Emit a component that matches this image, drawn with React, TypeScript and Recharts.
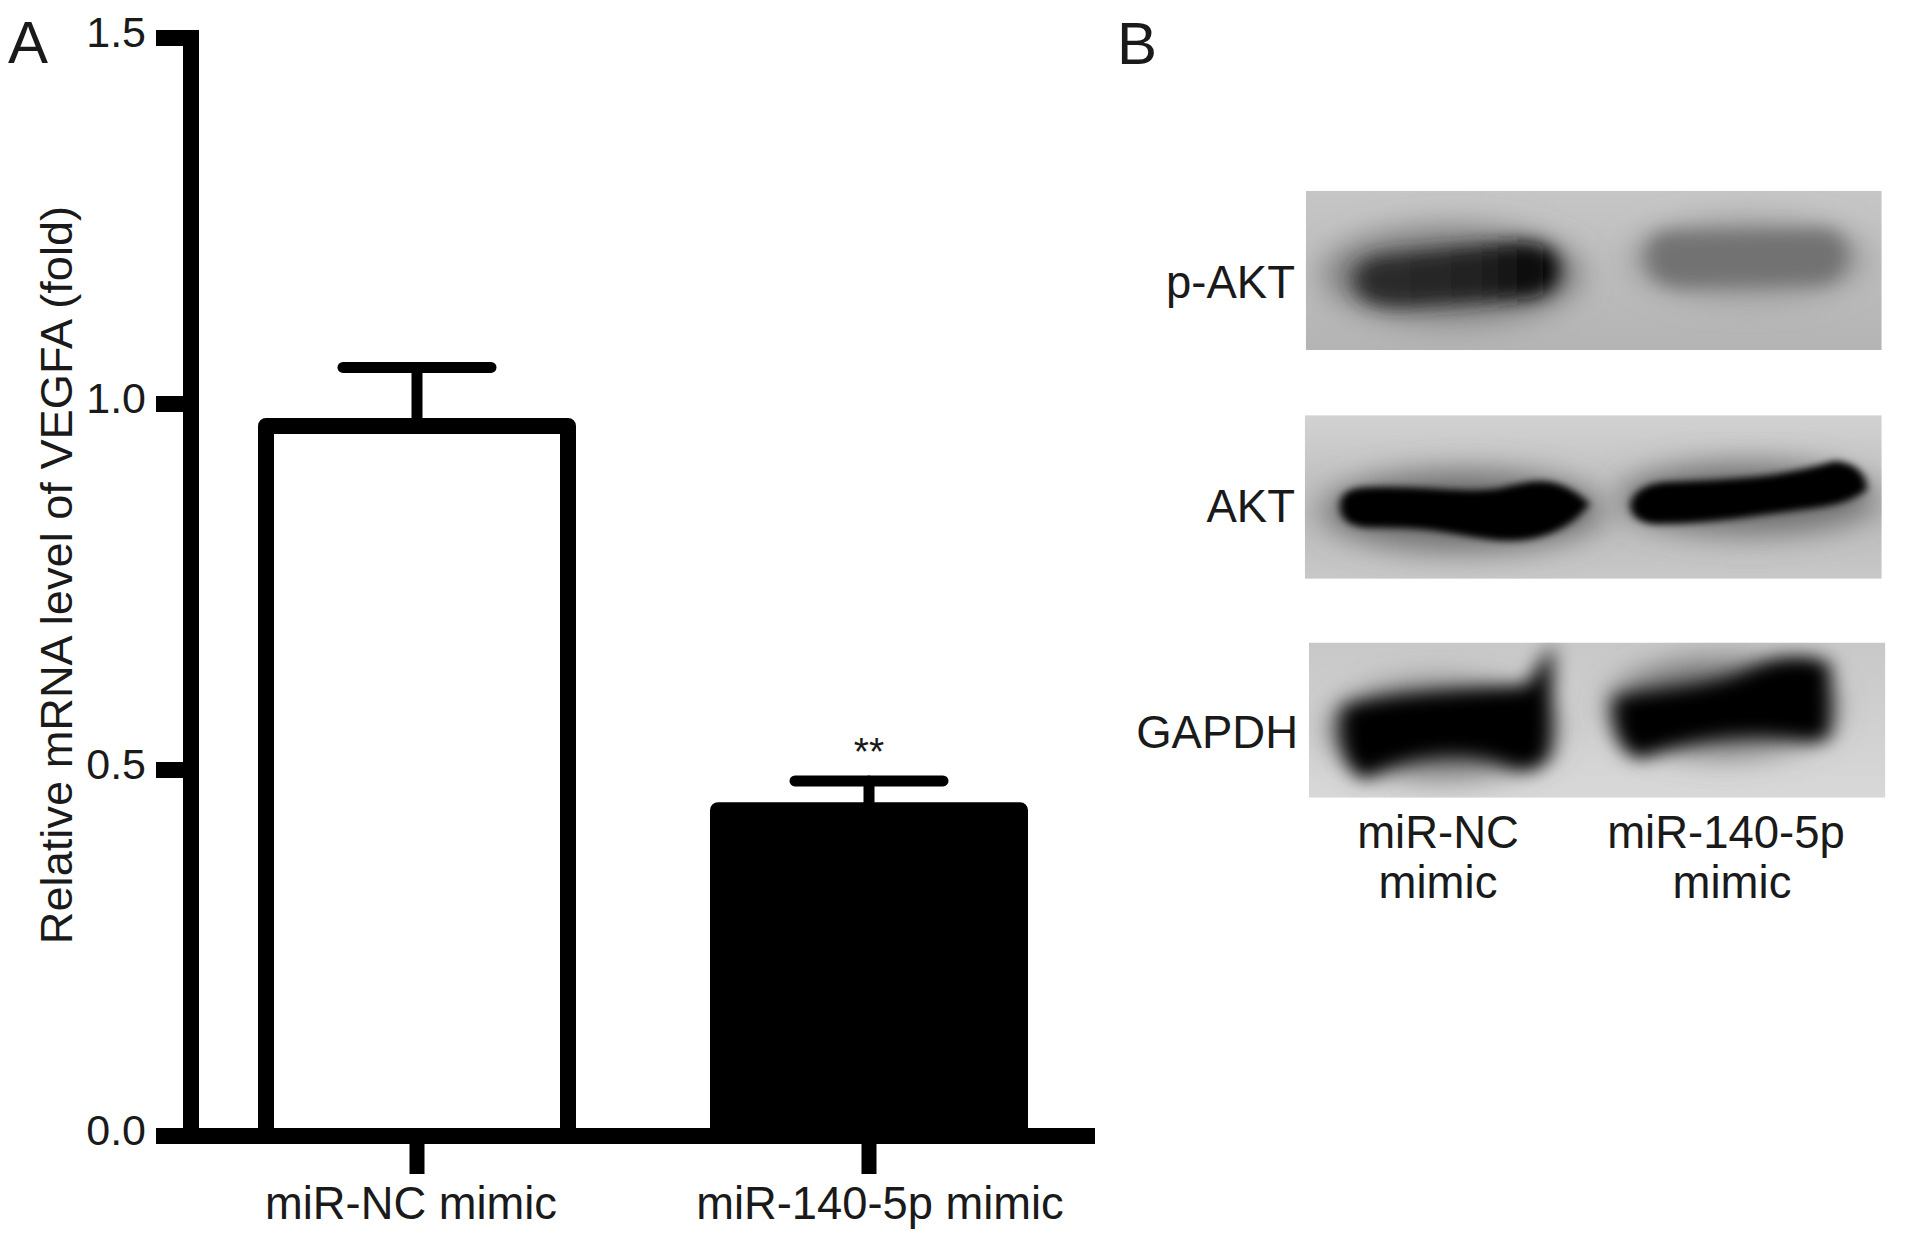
import { BarChart, Bar, Cell, XAxis, YAxis, ErrorBar, LabelList } from "recharts";

const categories = ["miR-NC mimic", "miR-140-5p mimic"];
const meanValues = [0.97, 0.445];
const semValues = [0.08, 0.04];
const significance = ["", "**"];
const barFills = ["#ffffff", "#000000"];
const yTicks = [0, 0.5, 1, 1.5];
const yTitle = "Relative mRNA level of VEGFA (fold)";

const chartData = categories.map((name, i) => ({
  name,
  mean: meanValues[i],
  errorRange: [0, semValues[i]],
  mark: significance[i],
}));

const FONT = "'Liberation Sans', Arial, sans-serif";
const TEXT = "#1a1a1a";

const XTick = ({ x, y, payload, index }: any) => (
  <text x={x + (index === 0 ? -6 : 11)} y={y + 43} textAnchor="middle" fontFamily={FONT} fontSize={45.3} fill={TEXT}>
    {payload.value}
  </text>
);

const YTick = ({ x, y, payload }: any) => (
  <text x={x} y={y + 9} textAnchor="end" fontFamily={FONT} fontSize={43} fill={TEXT}>
    {payload.value.toFixed(1)}
  </text>
);

const StarLabel = ({ x, y, width, value }: any) =>
  value ? (
    <text x={x + width / 2} y={y - 45} textAnchor="middle" fontFamily={FONT} fontSize={39} fill={TEXT}>
      {value}
    </text>
  ) : null;

// blots are photographs, so they are painted, not plotted
const Blots = () => (
  <svg width={1913} height={1237} style={{ position: "absolute", left: 0, top: 0, pointerEvents: "none" }}>
    <defs>
      <filter id="b8" x="-30%" y="-60%" width="160%" height="220%"><feGaussianBlur stdDeviation="8" /></filter>
      <filter id="b18" x="-30%" y="-60%" width="160%" height="220%"><feGaussianBlur stdDeviation="18" /></filter>
      <filter id="b30" x="-30%" y="-80%" width="160%" height="260%"><feGaussianBlur stdDeviation="30" /></filter>
      <linearGradient id="bgP" x1="0" y1="0" x2="0" y2="1">
        <stop offset="0" stopColor="#c6c6c6" />
        <stop offset="1" stopColor="#b4b4b4" />
      </linearGradient>
      <linearGradient id="bgA" x1="0" y1="0" x2="0" y2="1">
        <stop offset="0" stopColor="#d2d2d2" />
        <stop offset="0.6" stopColor="#bababa" />
        <stop offset="1" stopColor="#c8c8c8" />
      </linearGradient>
      <linearGradient id="bgG" x1="0" y1="0" x2="0" y2="1">
        <stop offset="0" stopColor="#c8c8c8" />
        <stop offset="1" stopColor="#d8d8d8" />
      </linearGradient>
      <linearGradient id="pBand" gradientUnits="userSpaceOnUse" x1="490" y1="0" x2="885" y2="0">
        <stop offset="0" stopColor="#2e2e2e" />
        <stop offset="0.6" stopColor="#222222" />
        <stop offset="1" stopColor="#000000" />
      </linearGradient>
      <clipPath id="clipP"><rect x={397} y={82} width={1111} height={320} /></clipPath>
      <clipPath id="clipA"><rect x={395} y={533} width={1113} height={329} /></clipPath>
      <clipPath id="clipG"><rect x={403} y={990} width={1112} height={312} /></clipPath>
    </defs>
    <g transform="translate(1100 150) scale(0.5184 0.4975)">
      <g clipPath="url(#clipP)">
        <rect x={397} y={82} width={1111} height={320} fill="url(#bgP)" />
        <ellipse cx={680} cy={250} rx={250} ry={95} fill="#7c7c7c" filter="url(#b30)" />
        <ellipse cx={1250} cy={220} rx={230} ry={80} fill="#999999" filter="url(#b30)" />
        <path d="M490 260 Q490 215 570 210 L810 185 Q885 185 885 240 Q885 300 800 300 L580 315 Q490 315 490 260Z" fill="url(#pBand)" filter="url(#b18)" />
        <path d="M1055 205 Q1060 160 1120 165 L1400 160 Q1445 170 1440 220 Q1430 270 1380 270 L1120 275 Q1050 270 1055 205Z" fill="#727272" filter="url(#b18)" />
      </g>
      <g clipPath="url(#clipA)">
        <rect x={395} y={533} width={1113} height={329} fill="url(#bgA)" />
        <ellipse cx={700} cy={725} rx={270} ry={80} fill="#6e6e6e" filter="url(#b30)" />
        <ellipse cx={1250} cy={700} rx={250} ry={70} fill="#6e6e6e" filter="url(#b30)" />
        <path d="M470 715 Q470 685 520 685 C620 680 720 700 780 685 C840 670 880 660 935 712 C900 760 840 780 780 778 C700 775 680 750 520 752 Q470 750 470 715Z" fill="#000" stroke="#000" strokeWidth={14} filter="url(#b8)" />
        <path d="M1030 712 Q1040 680 1090 675 C1200 670 1300 670 1420 632 Q1470 640 1472 680 Q1440 705 1380 712 C1280 725 1180 745 1070 745 Q1030 740 1030 712Z" fill="#000" stroke="#000" strokeWidth={14} filter="url(#b8)" />
      </g>
      <g clipPath="url(#clipG)">
        <rect x={403} y={990} width={1112} height={312} fill="url(#bgG)" />
        <ellipse cx={660} cy={1165} rx={220} ry={95} fill="#6e6e6e" filter="url(#b30)" />
        <ellipse cx={1200} cy={1120} rx={220} ry={95} fill="#6e6e6e" filter="url(#b30)" />
        <path d="M480 1130 C560 1105 720 1100 830 1090 L860 1040 L855 1210 Q840 1240 800 1230 C720 1190 600 1195 510 1250 Q470 1220 480 1130Z" fill="#000" stroke="#000" strokeWidth={26} filter="url(#b18)" />
        <path d="M1005 1110 C1100 1095 1200 1090 1270 1050 Q1340 1020 1395 1040 L1395 1170 Q1380 1180 1340 1170 C1240 1155 1130 1170 1040 1210 Q1000 1190 1005 1110Z" fill="#000" stroke="#000" strokeWidth={26} filter="url(#b18)" />
      </g>
    </g>
    <g fontFamily={FONT} fontSize={45.5} fill={TEXT}>
      <text x={1295} y={298} textAnchor="end">p-AKT</text>
      <text x={1295} y={522} textAnchor="end">AKT</text>
      <text x={1298} y={748} textAnchor="end">GAPDH</text>
      <text x={1438} y={848} textAnchor="middle">miR-NC</text>
      <text x={1438} y={898} textAnchor="middle">mimic</text>
      <text x={1726} y={848} textAnchor="middle">miR-140-5p</text>
      <text x={1732} y={898} textAnchor="middle">mimic</text>
    </g>
    <g fontFamily={FONT} fontSize={60} fill={TEXT}>
      <text x={8} y={63}>A</text>
      <text x={1117} y={64}>B</text>
    </g>
  </svg>
);

export default function App() {
  return (
    <div style={{ position: "absolute", left: 0, top: 0, width: 1913, height: 1237, background: "#fff", overflow: "hidden" }}>
      <BarChart
        width={1913}
        height={1237}
        data={chartData}
        margin={{ top: 38, right: 818, bottom: 0, left: 11 }}
        barSize={302}
      >
        <XAxis
          dataKey="name"
          height={101}
          interval={0}
          tick={<XTick />}
          tickSize={38}
          tickLine={{ stroke: "#000", strokeWidth: 15 }}
          axisLine={{ stroke: "#000", strokeWidth: 16 }}
        />
        <YAxis
          width={180}
          domain={[0, 1.5]}
          ticks={yTicks}
          tick={<YTick />}
          tickSize={35}
          tickMargin={10}
          tickLine={{ stroke: "#000", strokeWidth: 16 }}
          axisLine={{ stroke: "#000", strokeWidth: 16, strokeLinecap: "square" }}
          label={{
            value: yTitle,
            angle: -90,
            position: "insideLeft",
            dx: 40,
            dy: -12,
            style: { fontFamily: FONT, fontSize: 45.2, fill: TEXT, textAnchor: "middle" },
          }}
        />
        <Bar dataKey="mean" stroke="#000" strokeWidth={16} strokeLinejoin="round" isAnimationActive={false}>
          {chartData.map((d, i) => (
            <Cell key={d.name} fill={barFills[i]} />
          ))}
          <ErrorBar dataKey="errorRange" width={74} stroke="#000" strokeWidth={11} strokeLinecap="round" isAnimationActive={false} />
          <LabelList dataKey="mark" content={<StarLabel />} />
        </Bar>
      </BarChart>
      <Blots />
    </div>
  );
}
